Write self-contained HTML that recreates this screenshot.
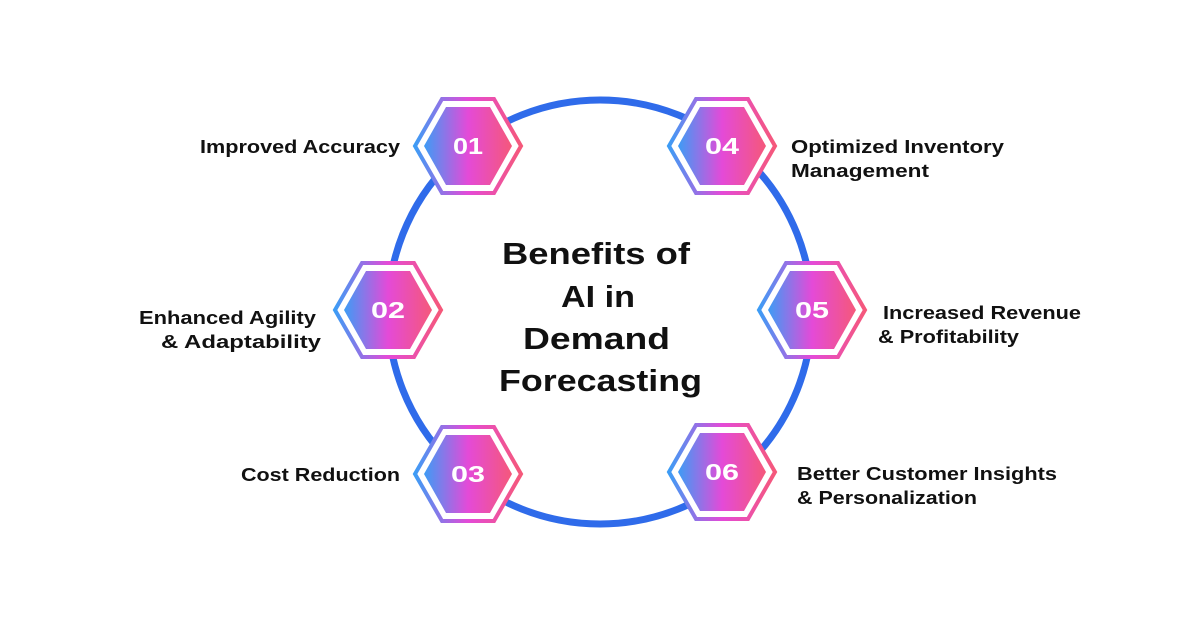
<!DOCTYPE html>
<html><head><meta charset="utf-8"><style>
body{margin:0;width:1200px;height:628px;background:#fff;overflow:hidden}
svg{display:block}
text{font-family:"Liberation Sans",sans-serif;font-weight:bold;fill:#111}
</style></head><body>
<svg width="1200" height="628" viewBox="0 0 1200 628">
<defs>
<linearGradient id="g" x1="0" y1="0" x2="1" y2="0">
<stop offset="0" stop-color="#3d9cf5"/><stop offset="0.5" stop-color="#e44ad8"/><stop offset="1" stop-color="#f5587a"/>
</linearGradient>
<g id="h">
<polygon points="-53,0 -26,-47 26,-47 53,0 26,47 -26,47" fill="#fff" stroke="url(#g)" stroke-width="4"/>
<polygon points="-44,0 -22,-39 22,-39 44,0 22,39 -22,39" fill="url(#g)"/>
</g>
</defs>
<circle cx="600" cy="312" r="212" fill="none" stroke="#2f6bea" stroke-width="7"/>
<use href="#h" x="468" y="146"/><use href="#h" x="722" y="146"/>
<use href="#h" x="388" y="310"/><use href="#h" x="812" y="310"/>
<use href="#h" x="468" y="474"/><use href="#h" x="722" y="472"/>
<g style="font-size:23px" text-anchor="middle">
<text x="468" y="154" style="fill:#fff" textLength="30" lengthAdjust="spacingAndGlyphs">01</text>
<text x="722" y="154" style="fill:#fff" textLength="34" lengthAdjust="spacingAndGlyphs">04</text>
<text x="388" y="318" style="fill:#fff" textLength="34" lengthAdjust="spacingAndGlyphs">02</text>
<text x="812" y="318" style="fill:#fff" textLength="34" lengthAdjust="spacingAndGlyphs">05</text>
<text x="468" y="482" style="fill:#fff" textLength="34" lengthAdjust="spacingAndGlyphs">03</text>
<text x="722" y="480" style="fill:#fff" textLength="34" lengthAdjust="spacingAndGlyphs">06</text>
</g>
<g style="font-size:31px" lengthAdjust="spacingAndGlyphs">
<text x="502" y="264" textLength="188" lengthAdjust="spacingAndGlyphs">Benefits of</text>
<text x="561" y="307" textLength="74" lengthAdjust="spacingAndGlyphs">AI in</text>
<text x="523" y="349" textLength="147" lengthAdjust="spacingAndGlyphs">Demand</text>
<text x="499" y="391" textLength="203" lengthAdjust="spacingAndGlyphs">Forecasting</text>
</g>
<g style="font-size:18px">
<text x="200" y="153" textLength="200" lengthAdjust="spacingAndGlyphs">Improved Accuracy</text>
<text x="139" y="324" textLength="177" lengthAdjust="spacingAndGlyphs">Enhanced Agility</text>
<text x="161" y="348" textLength="160" lengthAdjust="spacingAndGlyphs">&amp; Adaptability</text>
<text x="241" y="481" textLength="159" lengthAdjust="spacingAndGlyphs">Cost Reduction</text>
<text x="791" y="153" textLength="213" lengthAdjust="spacingAndGlyphs">Optimized Inventory</text>
<text x="791" y="177" textLength="138" lengthAdjust="spacingAndGlyphs">Management</text>
<text x="883" y="319" textLength="198" lengthAdjust="spacingAndGlyphs">Increased Revenue</text>
<text x="878" y="343" textLength="141" lengthAdjust="spacingAndGlyphs">&amp; Profitability</text>
<text x="797" y="480" textLength="260" lengthAdjust="spacingAndGlyphs">Better Customer Insights</text>
<text x="797" y="504" textLength="180" lengthAdjust="spacingAndGlyphs">&amp; Personalization</text>
</g>
</svg>
</body></html>
